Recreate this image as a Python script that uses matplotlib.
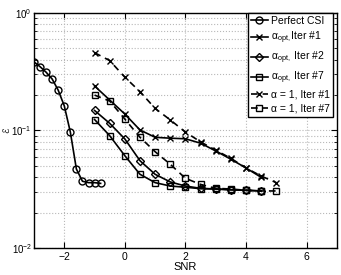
import matplotlib
matplotlib.use("Agg")
import matplotlib.pyplot as plt
import numpy as np

plt.rcParams['font.family'] = ['Liberation Sans', 'DejaVu Sans']
plt.rcParams['mathtext.fontset'] = 'custom'
plt.rcParams['mathtext.rm'] = 'Liberation Sans'
plt.rcParams['mathtext.it'] = 'Liberation Sans:italic'

# data
snr_perfect = [-3.0, -2.8, -2.6, -2.4, -2.2, -2.0, -1.8, -1.6, -1.4, -1.2, -1.0, -0.8]
err_perfect = [0.383, 0.349, 0.313, 0.274, 0.220, 0.162, 0.097, 0.047, 0.037, 0.036, 0.036, 0.0355]

snr_opt1 = [-1.0, 0.0, 0.5, 1.0, 1.5, 2.0, 2.5, 3.0, 3.5, 4.0, 4.5]
err_opt1 = [0.239, 0.138, 0.101, 0.0875, 0.086, 0.085, 0.078, 0.067, 0.057, 0.048, 0.040]

snr_opt = [-1.0, -0.5, 0.0, 0.5, 1.0, 1.5, 2.0, 2.5, 3.0, 3.5, 4.0, 4.5]
err_opt2 = [0.148, 0.115, 0.0847, 0.0553, 0.0424, 0.0365, 0.0337, 0.0322, 0.0318, 0.0313, 0.031, 0.0306]
err_opt7 = [0.124, 0.0903, 0.061, 0.0424, 0.036, 0.0337, 0.0329, 0.0320, 0.0318, 0.0313, 0.031, 0.0306]

snr_a1 = [-1.0, -0.5, 0.0, 0.5, 1.0, 1.5, 2.0, 2.5, 3.0, 3.5, 4.0, 4.5, 5.0]
err_a1_1 = [0.459, 0.393, 0.284, 0.214, 0.154, 0.123, 0.097, 0.080, 0.068, 0.058, 0.048, 0.041, 0.036]
err_a1_7 = [0.200, 0.178, 0.125, 0.0875, 0.066, 0.0516, 0.0392, 0.0348, 0.0322, 0.0318, 0.031, 0.0306, 0.0306]

fig = plt.figure(figsize=(3.41, 2.75), dpi=100)
ax = fig.add_axes([0.0997, 0.098, 0.888, 0.855])

kw = dict(color='k', lw=1.2, ms=5, mew=1.0, fillstyle='none')
dash = dict(dashes=(4, 3))
ax.plot(snr_perfect, err_perfect, marker='o', label='Perfect CSI', **kw)
ax.plot(snr_opt1, err_opt1, marker='x', label=r'α$_{\mathrm{opt,}}$Iter #1', **kw)
ax.plot(snr_opt, err_opt2, marker='D', label=r'α$_{\mathrm{opt,}}$ Iter #2',
        **{**kw, 'ms': 4.5})
ax.plot(snr_opt, err_opt7, marker='s', label=r'α$_{\mathrm{opt,}}$ Iter #7', **kw)
ax.plot(snr_a1, err_a1_1, marker='x', label='α = 1, Iter #1', **kw, **dash)
ax.plot(snr_a1, err_a1_7, marker='s', label='α = 1, Iter #7', **kw, **dash)

ax.set_yscale('log')
ax.set_xlim(-3, 7)
ax.set_ylim(1e-2, 1)
ax.set_xticks([-2, 0, 2, 4, 6])
ax.tick_params(which='both', direction='in', top=True, right=True, labelsize=7.5, pad=3)
ax.tick_params(axis='y', which='both', pad=1.5, labelsize=7)
ax.tick_params(which='major', length=4)
ax.tick_params(which='minor', length=2)
ax.grid(which='major', ls=':', color='#b8b8b8', lw=0.8)
ax.grid(which='minor', axis='y', ls=':', color='#b8b8b8', lw=0.8)
for s in ax.spines.values():
    s.set_linewidth(1.0)

ax.set_xlabel('SNR', fontsize=8, labelpad=0)
ax.set_ylabel('ℰ', fontsize=6.5, family=['DejaVu Sans'])
ax.yaxis.set_label_coords(-0.076, 0.5)

leg = ax.legend(loc='upper right', bbox_to_anchor=(0.987, 1.0), fontsize=7.5,
                frameon=True, fancybox=False, framealpha=1, edgecolor='k',
                handlelength=1.6, handletextpad=0.3, labelspacing=0.35,
                borderpad=0.3, borderaxespad=0)
leg.get_frame().set_linewidth(1.0)

fig.savefig('out.png', dpi=100)
